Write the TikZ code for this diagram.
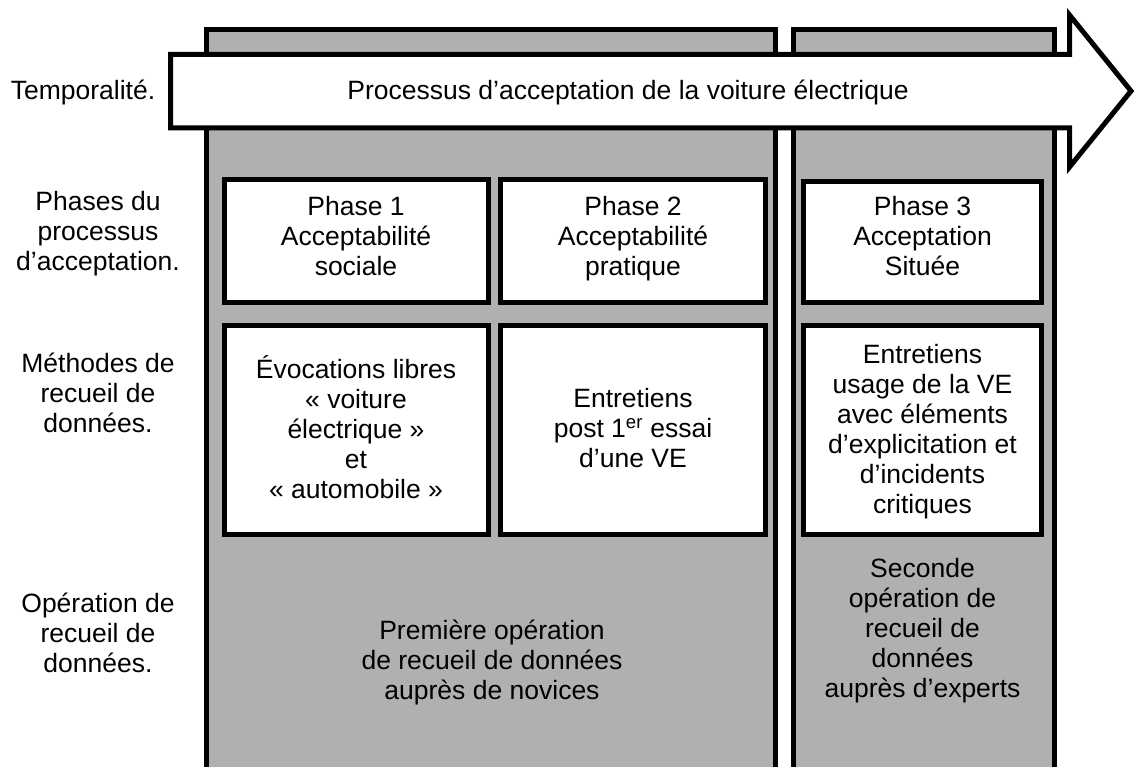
\documentclass[tikz,border=0pt]{standalone}
\usepackage{fontspec}
\setmainfont{Liberation Sans}
\definecolor{panelgray}{RGB}{177,175,176}
\begin{document}
\begin{tikzpicture}[x=1pt,y=-1pt,
  every node/.style={font=\fontsize{26.5}{30}\selectfont, align=center, inner sep=0pt,
    execute at begin node=\strut, execute at end node=\strut},
  panel/.style={draw=black, line width=5pt, fill=panelgray},
  wbox/.style={draw=black, line width=5pt, fill=white},
  lbl/.style={text=black}]
\useasboundingbox (0,0) rectangle (1135,767);
% panels
\path[panel] (206,29.5) rectangle (775.5,790);
\path[panel] (793,29.5) rectangle (1054,790);
% arrow
\draw[line width=5pt, fill=white, line join=miter]
  (170.5,54.5) -- (1069.5,54.5) -- (1069.5,15) -- (1131,91) -- (1069.5,167) -- (1069.5,128) -- (170.5,128) -- cycle;
\node (arrowtext) at (628,94) {Processus d’acceptation de la voiture électrique};
% left labels
\node[lbl] (ltemp) at (83,94) {Temporalité.};
\node[lbl] (lphase) at (98,235) {Phases du\\processus\\d’acceptation.};
\node[lbl] (lmeth) at (98,397) {Méthodes de\\recueil de\\données.};
\node[lbl] (lop) at (98,637) {Opération de\\recueil de\\données.};
% phase boxes
\draw[wbox] (224,180) rectangle (488,303);
\draw[wbox] (500.5,180) rectangle (765.5,303);
\draw[wbox] (803.5,181.5) rectangle (1041.5,303);
\node (p1) at (356,240) {Phase 1\\Acceptabilité\\sociale};
\node (p2) at (633,240) {Phase 2\\Acceptabilité\\pratique};
\node (p3) at (922.5,240) {Phase 3\\Acceptation\\Située};
% method boxes
\draw[wbox] (224,325.5) rectangle (488,534.5);
\draw[wbox] (500.5,325.5) rectangle (765.5,534.5);
\draw[wbox] (803.5,325.5) rectangle (1041.5,534.5);
\node (m1) at (356,432) {Évocations libres\\« voiture\\électrique »\\et\\« automobile »};
\node (m2) at (633,432) {Entretiens\\post 1\textsuperscript{er} essai\\d’une VE};
\node (m3) at (922.5,433) {Entretiens\\usage de la VE\\avec éléments\\d’explicitation et\\d’incidents\\critiques};
% operations
\node (o1) at (492,664) {Première opération\\de recueil de données\\auprès de novices};
\node (o2) at (922.5,632) {Seconde\\opération de\\recueil de\\données\\auprès d’experts};
\end{tikzpicture}
\end{document}
